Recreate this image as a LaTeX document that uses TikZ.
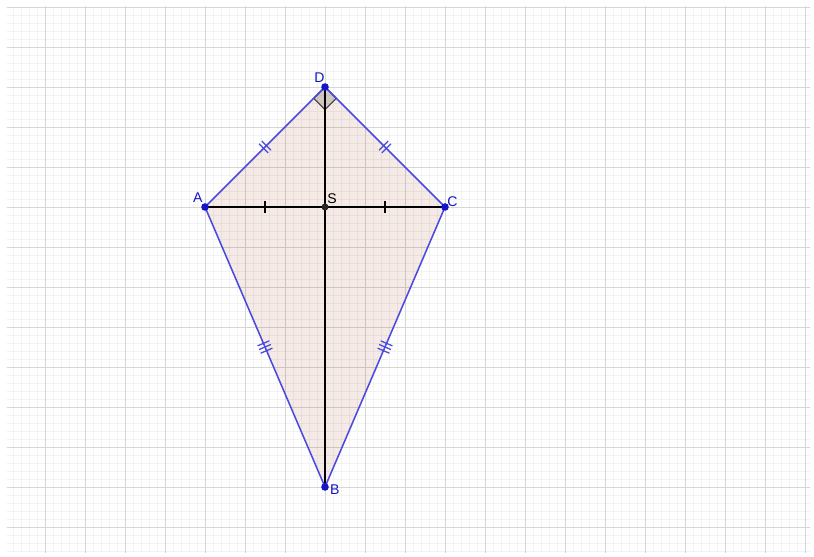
\documentclass[tikz,border=0pt]{standalone}
\usepackage{amsmath}
\usepackage{fontspec}
\setmainfont{Liberation Sans}
\usepackage{tikz}
\usetikzlibrary{calc}

\definecolor{edgeblue}{RGB}{74,74,222}
\definecolor{ptblue}{RGB}{20,20,200}
\definecolor{kitebrown}{RGB}{153,51,0}
\definecolor{gridminor}{RGB}{242,242,242}
\definecolor{gridmajor}{RGB}{214,214,214}

\tikzset{
	edge/.style={edgeblue,line width=1.1pt},
	diag/.style={black,line width=1.1pt},
	tick/.style={line width=0.9pt},
	pt/.style={circle,fill=ptblue,inner sep=0pt,minimum size=5.4pt},
	lbl/.style={font=\fontsize{10}{12}\selectfont,text=ptblue,inner sep=1.5pt}
}

\begin{document}
\begin{tikzpicture}
			\useasboundingbox (-8.125,-8.725) rectangle (12.225,5.175);
			% background grid
			\begin{scope}
				\clip (-7.95,-8.625) rectangle (12.125,5.025);
				\draw[gridminor,line width=0.5pt,step=0.2] (-8,-8.8) grid (12.4,5.2);
				\draw[gridmajor,line width=0.7pt,step=1] (-8,-8.8) grid (12.4,5.2);
			\end{scope}
			% the four vertices and the centre
			\coordinate (A) at (-3,0);
			\coordinate (B) at (0,-7);
			\coordinate (C) at (3,0);
			\coordinate (D) at (0,3);
			\coordinate (S) at (0,0);
			% the kite
			\fill[kitebrown,fill opacity=0.1] (A) -- (D) -- (C) -- (B) -- cycle;
			% right angle at D
			\filldraw[fill=black,fill opacity=0.15,draw=black!75,line width=0.8pt] (D) -- ++(-0.283,-0.283) -- ++(0.283,-0.283) -- ++(0.283,0.283) -- cycle;
			% the diagonals
			\draw[diag] (A) -- (C);
			\draw[diag] (D) -- (B);
			\draw[tick] (-1.5,-0.15) -- (-1.5,0.15);
			\draw[tick] (1.5,-0.15) -- (1.5,0.15);
			% the sides
			\draw[edge] (A) -- (D) -- (C) -- (B) -- cycle;
			% equal sides: two and three marks
			\foreach \p/\q in {A/D,D/C} {
				\path ($(\p)!0.5!(\q)$) coordinate (m);
				\foreach \k in {-0.05,0.05} {
					\draw[edgeblue,tick] ($(m)!\k cm!(\q)$) coordinate (n) ($(n)!0.16cm!90:(\q)$) -- ($(n)!0.16cm!-90:(\q)$);
				}
			}
			\foreach \p/\q in {A/B,C/B} {
				\path ($(\p)!0.5!(\q)$) coordinate (m);
				\foreach \k in {-0.1,0,0.1} {
					\draw[edgeblue,tick] ($(m)!\k cm!(\q)$) coordinate (n) ($(n)!0.16cm!90:(\q)$) -- ($(n)!0.16cm!-90:(\q)$);
				}
			}
			% the points and labels
			\node[pt] (pA) at (A) {};
			\node[pt] (pB) at (B) {};
			\node[pt] (pC) at (C) {};
			\node[pt] (pD) at (D) {};
			\node[circle,fill=black!85,inner sep=0pt,minimum size=5pt] (pS) at (S) {};
			\node[lbl,above left] (lA) at (-3,0.05) {A};
			\node[lbl,right] (lB) at (0.07,-7.07) {B};
			\node[lbl,above right] (lC) at (3.0,-0.04) {C};
			\node[lbl,above left] (lD) at (0.05,3.05) {D};
			\node[lbl,above right,text=black] (lS) at (0,0.03) {S};
		\end{tikzpicture}
\end{document}
